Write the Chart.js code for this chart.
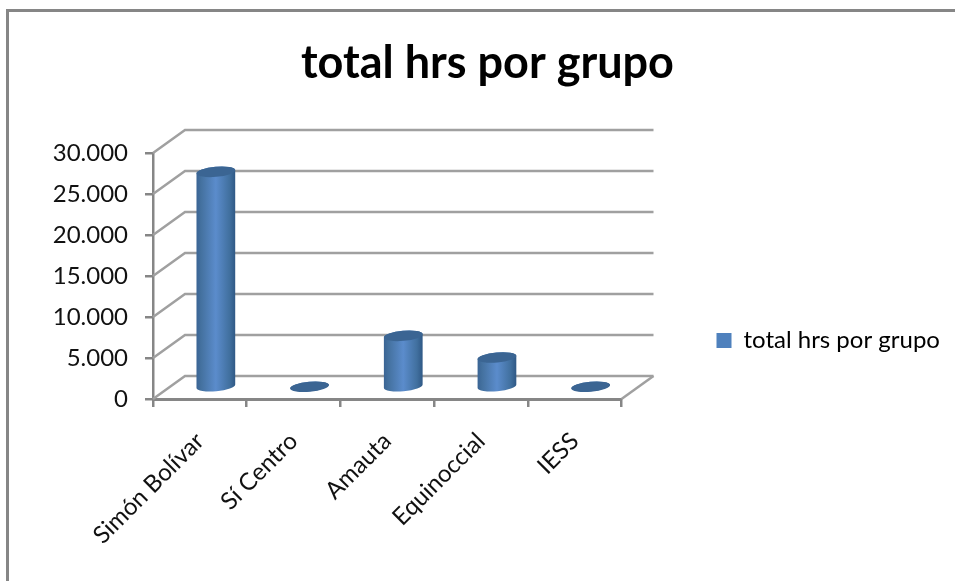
<!DOCTYPE html>
<html>
<head>
<meta charset="utf-8">
<title>total hrs por grupo</title>
<script src="https://cdn.jsdelivr.net/npm/chart.js@4"></script>
<style>
    html, body { margin: 0; padding: 0; background: #fff; overflow: hidden; }
    #wrap { position: relative; width: 955px; height: 581px; }
    #frame { position: absolute; left: 6px; top: 9px; right: 0; bottom: 0; border-left: 3px solid #868686; border-top: 3px solid #868686; }
    canvas { position: absolute; left: 0; top: 0; }
</style>
</head>
<body>
<div id="wrap">
    <div id="frame"></div>
    <canvas id="chart" width="955" height="581"></canvas>
</div>
<script>
const categories = ['Simón Bolívar', 'Sí Centro', 'Amauta', 'Equinoccial', 'IESS'];
const totalHrs = [26300, 100, 6300, 3650, 100];
const seriesName = 'total hrs por grupo';

// desplazamiento de la pared del fondo (falso 3D)
const wallDx = 32, wallDy = -23;
const gridColor = '#a0a0a0';
const axisColor = '#868686';

function formatThousands(v) {
    return String(v).replace(/\B(?=(\d{3})+$)/g, '.');
}

const wallPlugin = {
    id: 'wall',
    afterLayout(chart) {
        // el titulo se centra en todo el ancho, no en el hueco que deja la leyenda
        chart.titleBlock.left = 20;
        chart.titleBlock.right = chart.width;
        // la leyenda recorta su texto a su caja: ensanchar y bajar
        chart.legend.right = chart.width;
        chart.legend.top += 50;
        chart.legend.bottom += 50;
    },
    beforeDatasetsDraw(chart) {
        const ctx = chart.ctx, y = chart.scales.y, area = chart.chartArea;
        ctx.save();
        ctx.strokeStyle = gridColor;
        ctx.lineWidth = 2.5;
        y.ticks.forEach(t => {
            const py = y.getPixelForValue(t.value);
            ctx.beginPath();
            ctx.moveTo(area.left, py);
            ctx.lineTo(area.left + wallDx, py + wallDy);
            ctx.lineTo(area.right + wallDx, py + wallDy);
            ctx.stroke();
        });
        const by = y.getPixelForValue(0);
        ctx.beginPath();
        ctx.moveTo(area.right, by);
        ctx.lineTo(area.right + wallDx, by + wallDy);
        ctx.stroke();
        ctx.restore();
    }
};

const cylinderPlugin = {
    id: 'cylinder',
    afterDatasetsDraw(chart) {
        const ctx = chart.ctx;
        const tilt = -0.09, ry = 5;
        chart.getDatasetMeta(0).data.forEach(bar => {
            const cx = bar.x + wallDx / 2;
            const top = bar.y + wallDy / 2;
            const bottom = bar.base + wallDy / 2;
            const rx = bar.width / 2;
            const grad = ctx.createLinearGradient(cx - rx, 0, cx + rx, 0);
            grad.addColorStop(0, '#3a6494');
            grad.addColorStop(0.12, '#44719f');
            grad.addColorStop(0.5, '#5b8ccc');
            grad.addColorStop(0.85, '#41709f');
            grad.addColorStop(1, '#2f5885');
            ctx.save();
            ctx.fillStyle = grad;
            ctx.beginPath();
            ctx.ellipse(cx, bottom, rx, ry, tilt, 0, Math.PI);
            ctx.ellipse(cx, top, rx, ry, tilt, Math.PI, Math.PI * 2);
            ctx.closePath();
            ctx.fill();
            ctx.fillStyle = '#3b6593';
            ctx.beginPath();
            ctx.ellipse(cx, top, rx, ry, tilt, 0, Math.PI * 2);
            ctx.fill();
            ctx.restore();
        });
    }
};

new Chart(document.getElementById('chart'), {
    type: 'bar',
    data: {
        labels: categories,
        datasets: [{
            label: seriesName,
            data: totalHrs,
            backgroundColor: 'rgba(0,0,0,0)',
            barPercentage: 0.415,
            categoryPercentage: 1
        }]
    },
    plugins: [wallPlugin, cylinderPlugin],
    options: {
        responsive: false,
        animation: false,
        devicePixelRatio: 1,
        layout: { padding: { left: 20, right: 133, top: 0, bottom: 0 } },
        plugins: {
            title: {
                display: true,
                text: seriesName,
                color: '#000',
                font: { family: 'Lato', size: 45, weight: 'bold' },
                padding: { top: 36, bottom: 63 }
            },
            legend: {
                position: 'right',
                labels: {
                    padding: 95,
                    boxWidth: 15,
                    boxHeight: 15,
                    color: '#111',
                    font: { family: 'Lato', size: 24 },
                    generateLabels: () => [{ text: seriesName, fillStyle: '#4f81bd', strokeStyle: '#4f81bd', lineWidth: 0 }]
                }
            },
            tooltip: { enabled: false }
        },
        scales: {
            x: {
                afterFit(scale) { scale.height = 182; },
                grid: { drawOnChartArea: false, drawTicks: true, tickLength: 8, tickColor: axisColor, lineWidth: 2.5 },
                border: { color: axisColor, width: 3 },
                ticks: {
                    maxRotation: 45, minRotation: 45, padding: 20,
                    color: '#111',
                    font: { family: 'Lato', size: 24 }
                }
            },
            y: {
                min: 0, max: 30000,
                afterFit(scale) { scale.width = 133; },
                grid: { drawOnChartArea: false, drawTicks: true, tickLength: 8, tickColor: axisColor, lineWidth: 2.5 },
                border: { color: axisColor, width: 2.5 },
                ticks: {
                    stepSize: 5000, padding: 17,
                    color: '#111',
                    font: { family: 'Lato', size: 24 },
                    callback: v => formatThousands(v)
                }
            }
        }
    }
});
</script>
</body>
</html>
